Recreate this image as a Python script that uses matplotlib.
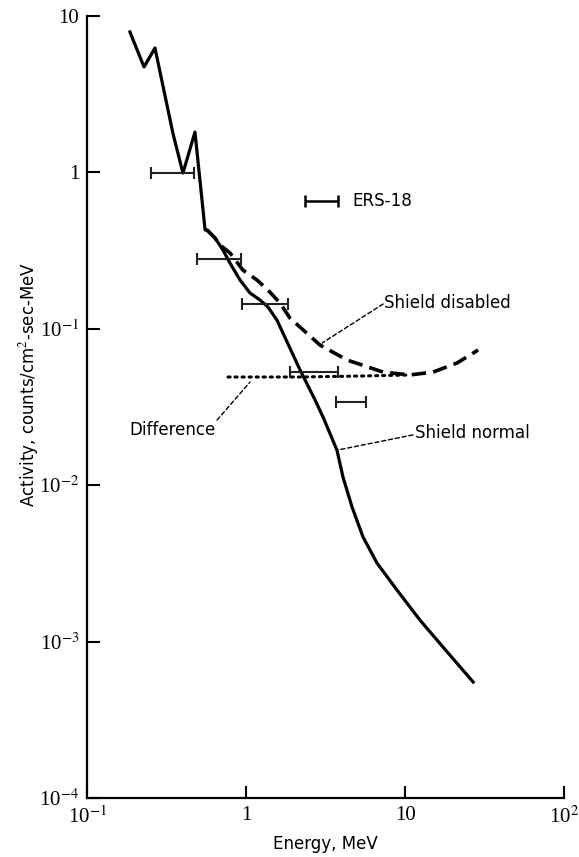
import numpy as np
import matplotlib
matplotlib.use('Agg')
import matplotlib.pyplot as plt
from matplotlib.ticker import FixedLocator, FixedFormatter, NullLocator

plt.rcParams['mathtext.fontset'] = 'stix'

# shield normal (solid)
e_normal = [0.185, 0.227, 0.266, 0.345, 0.399, 0.475, 0.55, 0.566, 0.635, 0.713,
            0.789, 0.913, 1.055, 1.22, 1.37, 1.56, 2.18, 2.71, 3.04, 3.72,
            4.06, 4.63, 5.43, 6.65, 8.89, 12.4, 17.3, 26.8]
a_normal = [7.85, 4.69, 6.2, 1.77, 0.985, 1.80, 0.426, 0.426, 0.379, 0.317,
            0.262, 0.204, 0.1686, 0.152, 0.137, 0.113, 0.0543, 0.0349, 0.0272, 0.0167,
            0.01125, 0.00723, 0.00465, 0.00317, 0.00213, 0.00137, 0.000922, 0.000551]

# shield disabled (dashed)
e_disabled = [0.566, 0.635, 0.682, 0.789, 0.953, 1.168, 1.37, 1.63, 1.88, 2.91,
              4.31, 7.26, 10.7, 15.0, 21.2, 28.8]
a_disabled = [0.426, 0.379, 0.342, 0.304, 0.236, 0.204, 0.176, 0.1455, 0.1167, 0.0784,
              0.0629, 0.0527, 0.0505, 0.0527, 0.0602, 0.0729]

# difference (dotted)
e_diff = [0.767, 2.18, 5.2, 10.7]
a_diff = [0.049, 0.049, 0.0497, 0.0505]

# ERS-18 bins
ers_lo = [0.251, 0.489, 0.94, 1.88, 3.67]
ers_hi = [0.469, 0.926, 1.83, 3.78, 5.67]
ers_val = [0.985, 0.278, 0.143, 0.0527, 0.0339]

xticks = [0.1, 1, 10, 100]
xlabels = ['10$^{-1}$', '1', '10', '10$^{2}$']
yticks = [1e-4, 1e-3, 1e-2, 1e-1, 1, 10]
ylabels = ['10$^{-4}$', '10$^{-3}$', '10$^{-2}$', '10$^{-1}$', '1', '10']

sans = dict(family='DejaVu Sans', fontstretch='condensed', fontsize=13.3)
serif = ['Liberation Serif', 'DejaVu Serif']

fig = plt.figure(figsize=(5.79, 8.57), dpi=100)
ax = fig.add_axes([0.1511, 0.0688, 0.8230, 0.9131])
ax.set_xscale('log')
ax.set_yscale('log')
ax.set_xlim(0.1, 100)
ax.set_ylim(1e-4, 10)

ax.plot(e_normal, a_normal, color='black', lw=2.3, solid_joinstyle='round')
ax.plot(e_disabled, a_disabled, color='black', lw=2.6, ls=(0, (4, 2)))
ax.plot(e_diff, a_diff, color='black', lw=2.2, ls=(0, (0.7, 1.6)), dash_capstyle='round')

ers_x = np.sqrt(np.array(ers_lo) * np.array(ers_hi))
xerr = [ers_x - np.array(ers_lo), np.array(ers_hi) - ers_x]
ax.errorbar(ers_x, ers_val, xerr=xerr, fmt='none', ecolor='#222222',
            elinewidth=1.5, capsize=4, capthick=1.5)

# key symbol
kx = np.sqrt(2.34 * 3.78)
ax.errorbar([kx], [0.653], xerr=[[kx - 2.34], [3.78 - kx]], fmt='none',
            ecolor='black', elinewidth=1.8, capsize=4, capthick=1.8)
ax.text(4.63, 0.653, 'ERS-18', va='center', ha='left', **sans)

leader = dict(arrowstyle='-', ls=(0, (3, 2)), lw=1.0, color='black', shrinkA=0, shrinkB=0)
ax.annotate('', xy=(3.00, 0.0808), xytext=(7.26, 0.1434), arrowprops=leader)
ax.text(7.4, 0.145, 'Shield disabled', va='center', ha='left', **sans)
ax.annotate('', xy=(3.72, 0.0167), xytext=(11.2, 0.0209), arrowprops=leader)
ax.text(11.5, 0.0214, 'Shield normal', va='center', ha='left', **sans)
ax.annotate('', xy=(1.055, 0.0455), xytext=(0.654, 0.026), arrowprops=leader)
ax.text(0.644, 0.0225, 'Difference', va='center', ha='right', **sans)

for s in ['top', 'right']:
    ax.spines[s].set_visible(False)
for s in ['left', 'bottom']:
    ax.spines[s].set_linewidth(1.6)

ax.xaxis.set_major_locator(FixedLocator(xticks))
ax.xaxis.set_major_formatter(FixedFormatter(xlabels))
ax.yaxis.set_major_locator(FixedLocator(yticks))
ax.yaxis.set_major_formatter(FixedFormatter(ylabels))
ax.xaxis.set_minor_locator(NullLocator())
ax.yaxis.set_minor_locator(NullLocator())
ax.tick_params(direction='in', length=9, width=1.5, pad=6)
for lab in ax.get_xticklabels() + ax.get_yticklabels():
    lab.set_family(serif)
    lab.set_fontsize(15)

ax.set_xlabel('Energy, MeV', **sans)
ax.set_ylabel('Activity, counts/cm$^2$-sec-MeV', **sans)
ax.xaxis.set_label_coords(0.5, -0.047)
ax.yaxis.set_label_coords(-0.098, 0.528)

fig.savefig('out.png', dpi=100)
